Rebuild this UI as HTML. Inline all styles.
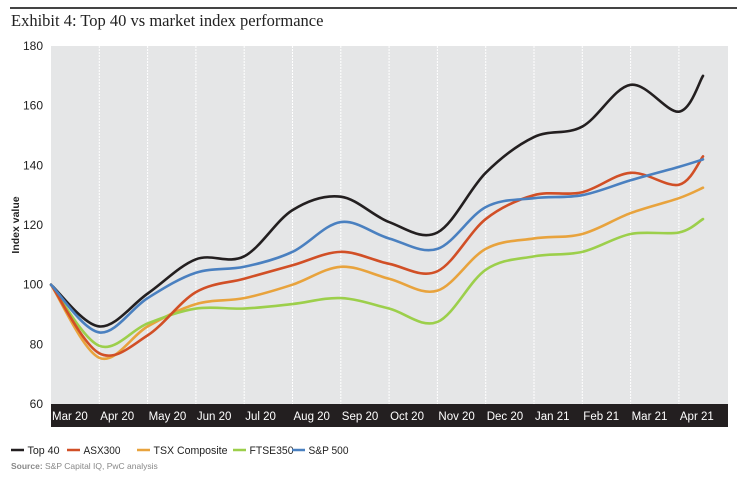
<!DOCTYPE html>
<html><head><meta charset="utf-8">
<style>
body{margin:0;background:#fff;width:737px;height:480px;overflow:hidden;position:relative;font-family:"Liberation Sans",sans-serif}
.t{position:absolute;left:11px;top:11px;font-family:"Liberation Serif",serif;font-size:16.5px;color:#222}
.rule{position:absolute;left:10px;right:0;top:7px;height:2px;background:#444}
</style></head><body>
<div class="rule"></div>
<div class="t">Exhibit 4: Top 40 vs market index performance</div>
<svg id="s" width="737" height="480" style="position:absolute;left:0;top:0" font-family="Liberation Sans, sans-serif"></svg>
<script>
var s=document.getElementById('s'),h='';
function Y(v){return 404-(v-60)*2.983;}
h+='<rect x="51" y="46" width="677" height="358" fill="#e5e6e7"/>';
var X=[];for(var i=0;i<14;i++)X.push(51+48.3*i);
for(var i=1;i<14;i++)h+='<line x1="'+X[i]+'" y1="46" x2="'+X[i]+'" y2="404" stroke="#fff" stroke-width="1" stroke-dasharray="2,1"/>';
h+='<rect x="51" y="404" width="677" height="23" fill="#231f20"/>';
var m=["Mar 20","Apr 20","May 20","Jun 20","Jul 20","Aug 20","Sep 20","Oct 20","Nov 20","Dec 20","Jan 21","Feb 21","Mar 21","Apr 21"];
for(var i=0;i<14;i++)h+='<text x="'+(X[i]+1)+'" y="420" fill="#fff" font-size="11.5">'+m[i]+'</text>';
for(var v=60;v<=180;v+=20)h+='<text x="43" y="'+(Y(v)+4)+'" text-anchor="end" font-size="12" fill="#222">'+v+'</text>';
h+='<text transform="translate(19,225) rotate(-90)" text-anchor="middle" font-size="10.5" font-weight="bold" fill="#222">Index value</text>';
var xs=[];for(var i=0;i<14;i++)xs.push(X[i]);xs.push(703);
var D=[
["#231f20",[100,86,97,108.5,109.5,125,129.5,121,117.5,137.5,149.5,153,167,158,170]],
["#e8a33d",[100,75.5,86,93.5,95.5,100,106,102,98,112,115.5,117,124,129,132.5]],
["#9ccf4b",[100,79.5,87,92,92,93.5,95.5,92,87.5,105,109.5,111,117,117.5,122]],
["#d14f26",[100,77,83,97.5,102,106.5,111,107,104.5,122,130,131,137.5,133.5,143]],
["#4a80c0",[100,84,95.5,104,106,111,121,115.5,112,126,129,130,135,139.5,142]]];
D.forEach(function(d){var p=d[1].map(function(v,i){return[xs[i],Y(v)]});
var str='M'+p[0][0]+','+p[0][1];
for(var i=0;i<p.length-1;i++){var p0=p[i-1]||p[i],p1=p[i],p2=p[i+1],p3=p[i+2]||p2;
str+=' C'+(p1[0]+(p2[0]-p0[0])/6)+','+(p1[1]+(p2[1]-p0[1])/6)+' '+(p2[0]-(p3[0]-p1[0])/6)+','+(p2[1]-(p3[1]-p1[1])/6)+' '+p2[0]+','+p2[1];}
h+='<path d="'+str+'" fill="none" stroke="'+d[0]+'" stroke-width="2.6" stroke-linecap="round"/>';});
var L=[["#231f20","Top 40",11,32],["#d14f26","ASX300",67,37],["#e8a33d","TSX Composite",137,74],["#9ccf4b","FTSE350",233,44],["#4a80c0","S&amp;P 500",292,40]];
L.forEach(function(l){h+='<line x1="'+l[2]+'" y1="450" x2="'+(l[2]+13)+'" y2="450" stroke="'+l[0]+'" stroke-width="2.5"/><text x="'+(l[2]+16.5)+'" y="454" font-size="11" fill="#222" textLength="'+l[3]+'" lengthAdjust="spacingAndGlyphs">'+l[1]+'</text>';});
h+='<text x="11" y="469" font-size="8.5" fill="#888"><tspan font-weight="bold">Source:</tspan> S&amp;P Capital IQ, PwC analysis</text>';
s.innerHTML=h;
</script>
</body></html>
